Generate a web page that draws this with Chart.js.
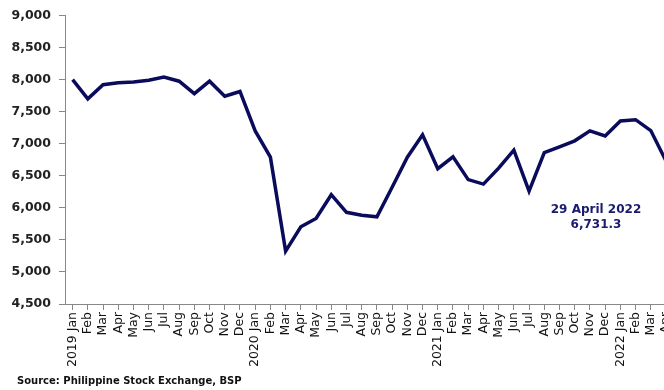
<!DOCTYPE html>
<html><head><meta charset="utf-8">
<script src="https://cdn.jsdelivr.net/npm/chart.js@4/dist/chart.umd.min.js"></script>
<style>
html,body{margin:0;padding:0;background:#fff;overflow:hidden;width:664px;height:390px;}
#wrap{position:relative;width:683px;height:390px;}
#src{position:absolute;left:17px;top:375px;font:bold 10px "DejaVu Sans",sans-serif;color:#111;white-space:nowrap;}
</style></head>
<body>
<div id="wrap"><canvas id="c" width="683" height="390"></canvas>
<div id="src">Source: Philippine Stock Exchange, BSP</div></div>
<script>
const years = ["2019","2020","2021","2022"];
const months = ["Jan","Feb","Mar","Apr","May","Jun","Jul","Aug","Sep","Oct","Nov","Dec"];
const categories = [];
for (let y = 0; y < years.length; y++) {
  for (let m = 0; m < 12; m++) {
    if (y === 3 && m > 3) break;
    categories.push(m === 0 ? years[y] + " Jan" : months[m]);
  }
}
const psei = [
  8000, 7700, 7920, 7950, 7962, 7990, 8040, 7975, 7780, 7975, 7740, 7815,
  7200, 6790, 5325, 5705, 5835, 6205, 5930, 5885, 5860, 6320, 6790, 7140,
  6610, 6795, 6440, 6370, 6620, 6900, 6260, 6860, 6950, 7045, 7200, 7120,
  7355, 7375, 7205, 6731.3
];
const yTicks = [4500, 5000, 5500, 6000, 6500, 7000, 7500, 8000, 8500, 9000];
const noteLines = ["29 April 2022", "6,731.3"];
const noteAnchor = { index: 34.4, value: 5975 };

const navy = "#0b0b5c";
const notePlugin = {
  id: "note",
  afterDatasetsDraw(chart) {
    const ctx = chart.ctx, xs = chart.scales.x, ys = chart.scales.y;
    const x = xs.getPixelForValue(noteAnchor.index);
    const y = ys.getPixelForValue(noteAnchor.value);
    ctx.save();
    ctx.fillStyle = "#1a1a6e";
    ctx.font = "bold 12px 'DejaVu Sans', sans-serif";
    ctx.textAlign = "center";
    ctx.textBaseline = "middle";
    noteLines.forEach((t, i) => ctx.fillText(t, x, y + i * 15));
    ctx.restore();
  }
};

new Chart(document.getElementById("c"), {
  type: "line",
  data: {
    labels: categories,
    datasets: [{
      data: psei,
      borderColor: navy,
      borderWidth: 3.5,
      pointRadius: 0,
      tension: 0,
      borderJoinStyle: "miter"
    }]
  },
  options: {
    responsive: false,
    animation: false,
    layout: { padding: { top: 9, right: 0, left: 0, bottom: 0 } },
    plugins: { legend: { display: false }, tooltip: { enabled: false } },
    scales: {
      x: {
        offset: true,
        grid: { display: true, drawOnChartArea: false, tickLength: 6, color: "#888", offset: false },
        border: { color: "#888", width: 1 },
        ticks: {
          autoSkip: false, minRotation: 90, maxRotation: 90, padding: 2,
          color: "#111", font: { family: "DejaVu Sans", size: 12.5 }
        },
        afterFit(s) { s.height = 86; }
      },
      y: {
        min: 4500, max: 9000,
        afterBuildTicks(s) { s.ticks = yTicks.map(v => ({ value: v })); },
        grid: { display: true, drawOnChartArea: false, tickLength: 6, color: "#888" },
        border: { color: "#888", width: 1 },
        ticks: {
          padding: 8, color: "#222",
          font: { family: "DejaVu Sans", size: 12.5, weight: "bold" },
          callback: v => v.toLocaleString("en-US")
        },
        afterFit(s) { s.width = 65; }
      }
    }
  },
  plugins: [notePlugin]
});
</script>
</body></html>
